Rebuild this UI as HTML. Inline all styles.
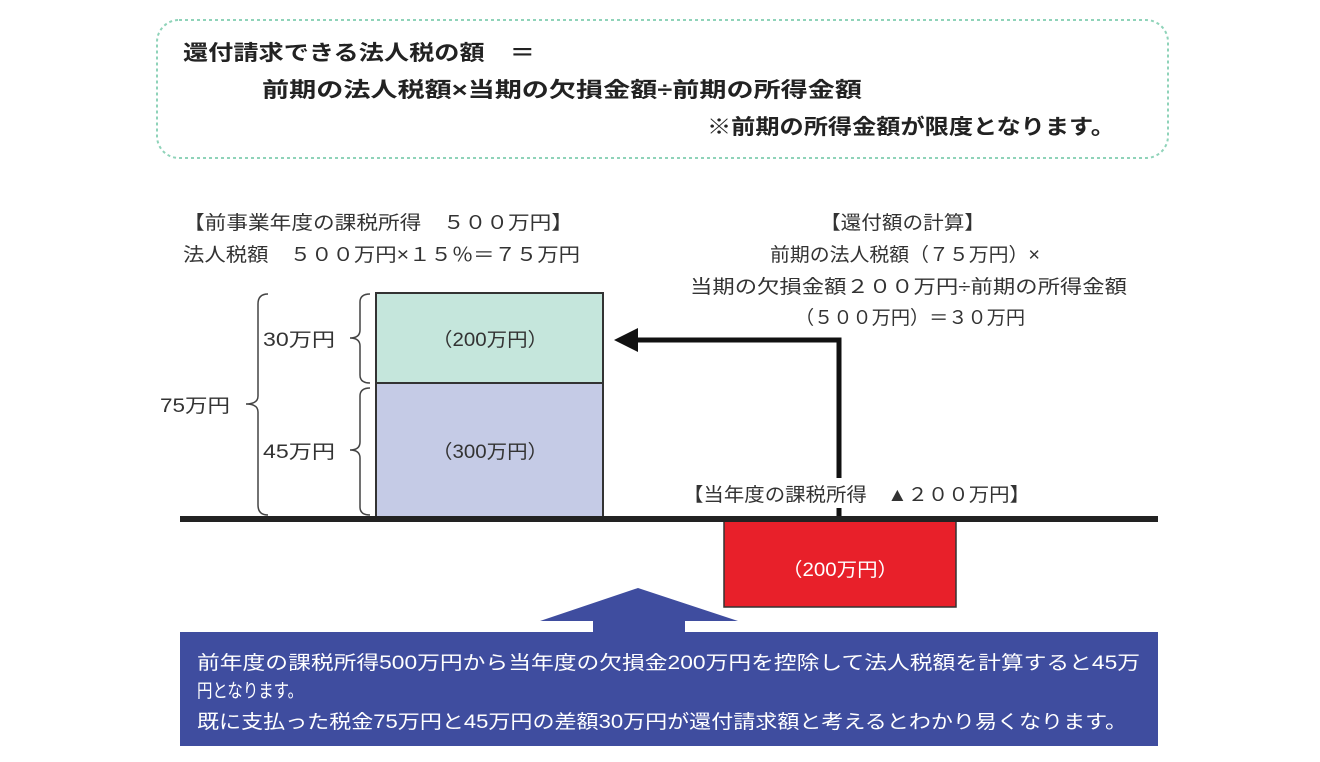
<!DOCTYPE html>
<html><head><meta charset="utf-8"><style>
html,body{margin:0;padding:0;background:#fff;}
svg{display:block;font-family:"Liberation Sans","Noto Sans CJK JP",sans-serif;}
</style></head><body>
<svg width="1320" height="762" viewBox="0 0 1320 762">
<rect x="157" y="20" width="1011" height="138" rx="22" fill="none" stroke="#8fd3b9" stroke-width="2" stroke-dasharray="3,3"/>
<g fill="#222" font-size="21" font-weight="bold">
<text x="183" y="60" textLength="352" lengthAdjust="spacingAndGlyphs">還付請求できる法人税の額　＝</text>
<text x="262" y="97" textLength="600" lengthAdjust="spacingAndGlyphs">前期の法人税額×当期の欠損金額÷前期の所得金額</text>
<text x="707" y="134" textLength="408" lengthAdjust="spacingAndGlyphs">※前期の所得金額が限度となります。</text>
</g>
<g fill="#333" font-size="19">
<text x="183" y="229" textLength="390" lengthAdjust="spacingAndGlyphs">【前事業年度の課税所得　５００万円】</text>
<text x="183" y="261" textLength="397" lengthAdjust="spacingAndGlyphs">法人税額　５００万円×１５％＝７５万円</text>
<text x="820" y="229" textLength="165" lengthAdjust="spacingAndGlyphs">【還付額の計算】</text>
<text x="770" y="261" textLength="270" lengthAdjust="spacingAndGlyphs">前期の法人税額（７５万円）×</text>
<text x="690" y="293" textLength="437" lengthAdjust="spacingAndGlyphs">当期の欠損金額２００万円÷前期の所得金額</text>
<text x="795" y="324" textLength="230" lengthAdjust="spacingAndGlyphs">（５００万円）＝３０万円</text>
</g>
<rect x="376" y="293" width="227" height="90" fill="#c5e6dc" stroke="#333" stroke-width="2"/>
<rect x="376" y="383" width="227" height="135" fill="#c5cbe6" stroke="#333" stroke-width="2"/>
<g fill="#333" font-size="19">
<text x="432" y="346" textLength="116" lengthAdjust="spacingAndGlyphs">（200万円）</text>
<text x="432" y="458" textLength="116" lengthAdjust="spacingAndGlyphs">（300万円）</text>
</g>
<g fill="none" stroke="#444" stroke-width="1.5">
<path d="M268 294 Q258 294 258 304 L258 396 Q258 404 246 404 Q258 404 258 412 L258 505 Q258 515 268 515"/>
<path d="M370 294 Q360 294 360 302 L360 330 Q360 338 350 338 Q360 338 360 346 L360 375 Q360 383 370 383"/>
<path d="M370 388 Q360 388 360 396 L360 442 Q360 450 350 450 Q360 450 360 458 L360 507 Q360 515 370 515"/>
</g>
<g fill="#333" font-size="19">
<text x="160" y="412" textLength="70" lengthAdjust="spacingAndGlyphs">75万円</text>
<text x="263" y="346" textLength="72" lengthAdjust="spacingAndGlyphs">30万円</text>
<text x="263" y="458" textLength="72" lengthAdjust="spacingAndGlyphs">45万円</text>
</g>
<rect x="724" y="521" width="232" height="86" fill="#e8202a" stroke="#333" stroke-width="1.5"/>
<text x="782" y="576" fill="#fff" font-size="19" textLength="116" lengthAdjust="spacingAndGlyphs">（200万円）</text>
<rect x="180" y="516" width="978" height="6" fill="#222"/>
<path d="M839 516 L839 508 M839 478 L839 340 L630 340" fill="none" stroke="#111" stroke-width="5"/>
<polygon points="614,340 638,328 638,352" fill="#111"/>
<text x="683" y="501" fill="#333" font-size="19" textLength="347" lengthAdjust="spacingAndGlyphs">【当年度の課税所得　▲２００万円】</text>
<polygon points="638,588 738,621 685,621 685,634 593,634 593,621 540,621" fill="#3f4d9f"/>
<rect x="180" y="632" width="978" height="114" fill="#3f4d9f"/>
<g fill="#fff" font-size="19">
<text x="197" y="669" textLength="943" lengthAdjust="spacingAndGlyphs">前年度の課税所得500万円から当年度の欠損金200万円を控除して法人税額を計算すると45万</text>
<text x="197" y="697" textLength="106" lengthAdjust="spacingAndGlyphs">円となります。</text>
<text x="197" y="728" textLength="930" lengthAdjust="spacingAndGlyphs">既に支払った税金75万円と45万円の差額30万円が還付請求額と考えるとわかり易くなります。</text>
</g>
</svg>
</body></html>
